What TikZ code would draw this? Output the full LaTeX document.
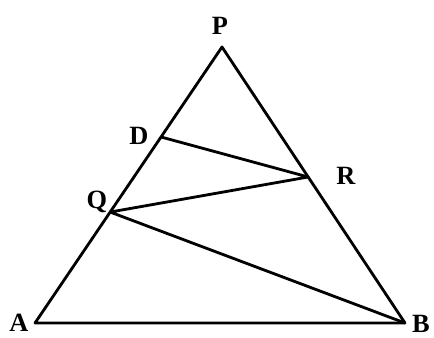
\documentclass[tikz,border=0pt]{standalone}
\usepackage{fontspec}
\setmainfont{Liberation Serif}
\usetikzlibrary{calc}
\tikzset{
  rand/.style={line width=1.6pt,color=black,line join=round},
  punkt/.style={font=\bfseries\fontsize{15}{18}\selectfont,inner sep=1pt},
}
\begin{document}
\begin{tikzpicture}
  \useasboundingbox (0,0) rectangle (8.68,6.74);
  \coordinate (A) at (0.70,0.28);
  \coordinate (B) at (8.10,0.28);
  \coordinate (P) at (4.44,5.80);
  \coordinate (D) at ($(A)!0.674!(P)$);
  \coordinate (Q) at ($(A)!0.402!(P)$);
  \coordinate (R) at ($(P)!0.471!(B)$);
  \draw[rand] (A) -- (B) -- (P) -- cycle;
  \draw[rand] (D) -- (R) -- (Q) -- (B);
  \node[punkt] (lP) at (4.40,6.22) {P};
  \node[punkt] (lD) at (2.78,4.02) {D};
  \node[punkt] (lR) at (6.92,3.22) {R};
  \node[punkt] (lQ) at (1.94,2.70) {Q};
  \node[punkt] (lA) at (0.38,0.28) {A};
  \node[punkt] (lB) at (8.42,0.26) {B};
\end{tikzpicture}
\end{document}
